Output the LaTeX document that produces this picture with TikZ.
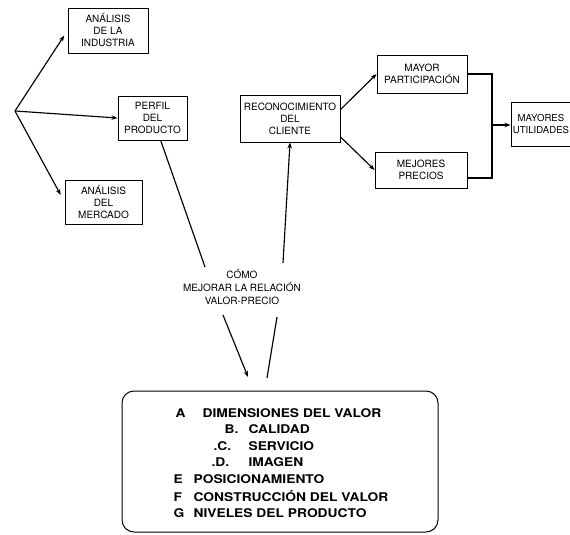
\documentclass[tikz,border=0pt]{standalone}
\usepackage{fontspec}
\setmainfont{TeX Gyre Heros}
\newfontfamily\listafont[FakeStretch=1.15]{TeX Gyre Heros}
\usetikzlibrary{arrows.meta}

\tikzset{
  caja/.style={draw, line width=0.9pt, align=center, inner sep=2pt,
    font=\fontsize{10}{12}\selectfont},
  item/.style={anchor=west, inner sep=0pt, text height=8.7pt, text depth=0pt,
    font=\listafont\bfseries\fontsize{12}{14}\selectfont},
}

\begin{document}
\begin{tikzpicture}[x=1pt, y=-1pt, >={Stealth[length=6pt,width=4.5pt]}, line width=1.15pt]
        \useasboundingbox (0,0) rectangle (570,535);
        \clip (0,0) rectangle (570,535);

        % Boxes on the left
        \node[caja, minimum width=80pt, minimum height=45pt] (industria) at (108,30.5) {ANÁLISIS\\DE LA\\INDUSTRIA};
        \node[caja, minimum width=69pt, minimum height=44pt] (perfil) at (152.5,118) {PERFIL\\DEL\\PRODUCTO};
        \node[caja, minimum width=77pt, minimum height=44pt] (mercado) at (103.5,202) {ANÁLISIS\\DEL\\MERCADO};

        % Boxes on the right
        \node[caja, minimum width=100pt, minimum height=47pt] (recon) at (290,118.5) {RECONOCIMIENTO\\DEL\\CLIENTE};
        \node[caja, minimum width=90pt, minimum height=38pt] (mayor) at (422,74) {MAYOR\\PARTICIPACIÓN};
        \node[caja, minimum width=92pt, minimum height=36pt] (mejores) at (421,170) {MEJORES\\PRECIOS};
        \node[caja, font=\fontsize{9.6}{11.5}\selectfont, inner sep=1pt, minimum width=60pt, minimum height=44pt] (utilidades) at (541,124) {MAYORES\\UTILIDADES};

        % Fan from the left
        \coordinate (origen) at (15,111);
        \draw[->, shorten >=6pt] (origen) -- (industria.west);
        \draw[->] (origen) -- (perfil.west);
        \draw[->, shorten >=8pt] (origen) -- (mercado.west);

        % Reconocimiento to the two results
        \draw[->] (recon.10) -- (mayor.west);
        \draw[->] (recon.-20) -- (mejores.west);

        % Joining line
        \coordinate (codo1) at (492,74);
        \coordinate (codo2) at (492,178);
        \coordinate (codo3) at (492,125);
        \draw (mayor.east) -- (codo1) -- (codo2) -- (mejores.east |- codo2);
        \draw[->] (codo3) -- (utilidades.west |- codo3);

        % Middle text
        \node[font=\fontsize{10}{13}\selectfont, align=center] (como) at (242,287) {CÓMO\\MEJORAR LA RELACIÓN\\VALOR-PRECIO};
        \coordinate (c1) at (205,267);
        \coordinate (c2) at (283,263);
        \coordinate (c3) at (223,315);
        \coordinate (c4) at (277,317);
        \coordinate (c5) at (248,377);
        \coordinate (c6) at (267,378);
        \draw (perfil.-70) -- (c1);
        \draw[->] (c2) -- (recon.south);
        \draw[->] (c3) -- (c5);
        \draw (c6) -- (c4);

        % Bottom box with the list
        \node[draw, line width=1pt, rounded corners=12pt, minimum width=316pt, minimum height=141pt] (valor) at (280,461.5) {};
        \foreach \y/\xl/\letra/\xp/\texto in {413/175/A/202/DIMENSIONES DEL VALOR,
            429/224/B./248/CALIDAD, 446/213/.C./248/SERVICIO, 462/211/.D./248/IMAGEN,
            479/173/E/193/POSICIONAMIENTO, 497/173/F/193/CONSTRUCCIÓN DEL VALOR,
            513/173/G/193/NIVELES DEL PRODUCTO} {
            \node[item] (letra\y) at (\xl,\y) {\letra};
            \node[item] (texto\y) at (\xp,\y) {\texto};
        }
    \end{tikzpicture}
\end{document}
